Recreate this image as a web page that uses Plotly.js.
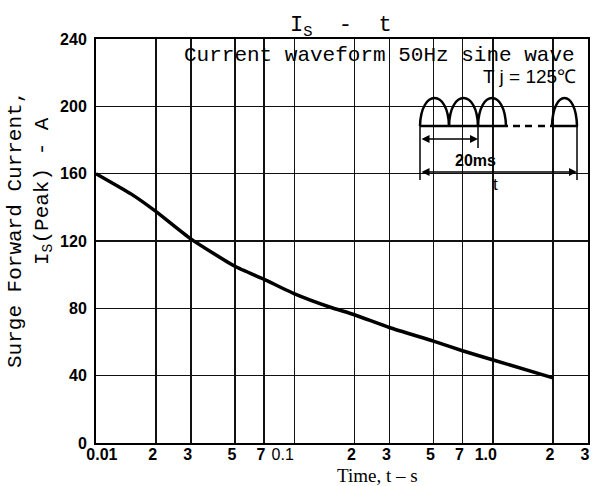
<!DOCTYPE html>
<html>
<head>
<meta charset="utf-8">
<script src="https://cdn.plot.ly/plotly-3.0.1.min.js"></script>
<style>html,body{margin:0;padding:0;background:#fff;}</style>
</head>
<body>
<div id="chart" style="width:592px;height:486px;"></div>
<script>
// ---- data ----
const timeS  = [0.01, 0.015, 0.02, 0.03, 0.05, 0.07, 0.1, 0.15, 0.2, 0.3, 0.5, 0.7, 1.0, 2.0];
const surgeA = [160, 148, 137.6, 121.3, 105, 97.3, 88.6, 80.8, 76.2, 68.6, 60.5, 54.8, 49.3, 38.7];

const NB = '\u00a0';
const xTickVals = [0.01, 0.02, 0.03, 0.05, 0.07, 0.1, 0.2, 0.3, 0.5, 0.7, 1.0, 2, 3];
const xTickText = ["<b>" + NB + NB + NB + NB + "0.01</b>","<b>2</b>","<b>3</b>","<b>5</b>","<b>7</b>",
                   "0.1" + NB + NB + NB + NB,
                   "<b>2</b>","<b>3</b>","<b>5</b>","<b>7</b>","<b>1.0" + NB + NB + "</b>","<b>2</b>","<b>3</b>"];
const yTickVals = [0, 40, 80, 120, 160, 200, 240];
const yTickText = ["0","40","80","120","160","200","240"];

// ---- layout geometry (pixels of the 592x486 frame) ----
const L = 96, R = 588, T = 39, B = 443;
const PX = x => (x - L) / (R - L);
const PY = y => (B - y) / (B - T);

const ink = '#000';
const shapes = [];
// white boxes that hide the grid behind the notes
function whiteBox(x0, y0, x1, y1) {
  shapes.push({type:'rect', xref:'paper', yref:'paper', layer:'between',
    x0:PX(x0), x1:PX(x1), y0:PY(y1), y1:PY(y0), fillcolor:'#fff', line:{width:0}});
}
whiteBox(176, 41, 586, 66);
whiteBox(412, 66, 586, 195);

function seg(x0, y0, x1, y1, w) {
  shapes.push({type:'line', xref:'paper', yref:'paper', layer:'above',
    x0:PX(x0), y0:PY(y0), x1:PX(x1), y1:PY(y1), line:{color:ink, width:w||2.5}});
}
function hump(x0, x1, yb, h) {
  const c = yb - h * 4 / 3;
  const p = 'M' + PX(x0) + ',' + PY(yb) +
            ' C' + PX(x0 + 1) + ',' + PY(c) + ' ' + PX(x1 - 1) + ',' + PY(c) + ' ' + PX(x1) + ',' + PY(yb);
  shapes.push({type:'path', xref:'paper', yref:'paper', layer:'above', path:p,
    line:{color:ink, width:2.5}});
}
const yb = 126;
hump(420, 449, yb, 28);
hump(449, 478, yb, 28);
hump(478, 506, yb, 28);
hump(552, 577, yb, 28);
seg(420, yb, 508, yb);
seg(513, yb, 520, yb);
seg(525, yb, 532, yb);
seg(538, yb, 545, yb);
seg(550, yb, 578, yb);
seg(420, yb, 420, 180, 1.5);
seg(478, yb, 478, 148, 1.5);
seg(577, yb, 577, 180, 1.5);

const mono = 'Liberation Mono, Courier New, monospace';
const sans = 'Liberation Sans, Arial, sans-serif';
const serif = 'Liberation Serif, Times New Roman, serif';

const annotations = [
  {xref:'paper', yref:'paper', x:PX(341), y:PY(27), xanchor:'center', yanchor:'middle',
   text:'I<sub>S</sub>' + NB + NB + '-' + NB + NB + 't', showarrow:false, font:{family:mono, size:22, color:ink}},
  {xref:'paper', yref:'paper', x:PX(182), y:PY(55), xanchor:'left', yanchor:'middle',
   text:'Current waveform 50Hz sine wave', showarrow:false, font:{family:mono, size:21, color:ink}},
  {xref:'paper', yref:'paper', x:PX(578), y:PY(77), xanchor:'right', yanchor:'middle',
   text:'T j = 125\u2103', showarrow:false, font:{family:sans, size:19, color:ink}},
  {xref:'paper', yref:'paper', x:PX(475), y:PY(160), xanchor:'center', yanchor:'middle',
   text:'<b>20ms</b>', showarrow:false, font:{family:sans, size:16, color:ink}},
  {xref:'paper', yref:'paper', x:PX(495), y:PY(184), xanchor:'center', yanchor:'middle',
   text:'t', showarrow:false, font:{family:sans, size:17, color:ink}},
  // double-headed arrows
  {xref:'paper', yref:'paper', x:PX(478), y:PY(139), ax:-58, ay:0, text:'', showarrow:true,
   arrowhead:2, arrowside:'end+start', arrowsize:1, arrowwidth:1.6, arrowcolor:ink, standoff:0, startstandoff:0},
  {xref:'paper', yref:'paper', x:PX(577), y:PY(172), ax:-157, ay:0, text:'', showarrow:true,
   arrowhead:2, arrowside:'end+start', arrowsize:1, arrowwidth:1.6, arrowcolor:ink, standoff:0, startstandoff:0},
  // axis titles
  {xref:'paper', yref:'paper', x:PX(15), y:PY(230), xanchor:'center', yanchor:'middle', textangle:-90,
   text:'Surge Forward Current,', showarrow:false, font:{family:mono, size:21, color:ink}},
  {xref:'paper', yref:'paper', x:PX(43), y:PY(191), xanchor:'center', yanchor:'middle', textangle:-90,
   text:'I<sub>S</sub>(Peak) - A', showarrow:false, font:{family:mono, size:21, color:ink}},
  {xref:'paper', yref:'paper', x:PX(377), y:PY(475), xanchor:'center', yanchor:'middle',
   text:'Time, t \u2013 s', showarrow:false, font:{family:serif, size:19, color:ink}}
];

const trace = {
  x: timeS, y: surgeA, type:'scatter', mode:'lines',
  line:{color:ink, width:3.5, shape:'spline', smoothing:0.5},
  cliponaxis:false, hoverinfo:'skip', showlegend:false
};

const axisCommon = {
  showgrid:true, gridcolor:'#111', gridwidth:1.5,
  showline:true, linecolor:ink, linewidth:2, mirror:true,
  zeroline:false, ticks:'', fixedrange:true
};

const layout = {
  width:592, height:486,
  margin:{l:L, r:592 - R, t:T, b:486 - B, pad:0},
  paper_bgcolor:'#fff', plot_bgcolor:'#fff',
  showlegend:false,
  xaxis: Object.assign({}, axisCommon, {
    type:'log', range:[Math.log10(0.01), Math.log10(3)],
    tickmode:'array', tickvals:xTickVals, ticktext:xTickText,
    tickfont:{family:sans, size:16, color:ink}, ticklabelstandoff:-4, ticklabelshift:-3,
    ticklabeloverflow:'allow'
  }),
  yaxis: Object.assign({}, axisCommon, {
    range:[0, 240], tickmode:'array', tickvals:yTickVals, ticktext:yTickText,
    tickfont:{family:sans, size:16, color:ink, weight:'bold'}, ticklabelstandoff:4
  }),
  shapes: shapes,
  annotations: annotations
};

Plotly.newPlot('chart', [trace], layout, {staticPlot:true, displayModeBar:false});
</script>
</body>
</html>
